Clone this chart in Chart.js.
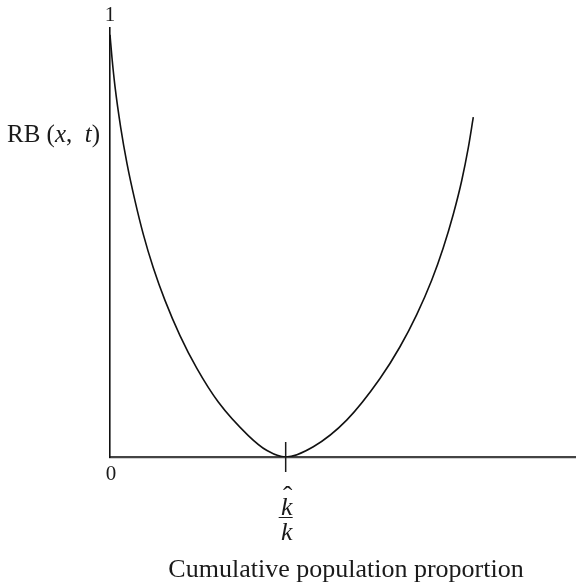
<!DOCTYPE html>
<html><head><meta charset="utf-8">
<script src="https://cdn.jsdelivr.net/npm/chart.js@4/dist/chart.umd.min.js"></script>
<style>html,body{margin:0;padding:0;background:#fff;}#wrap{width:576px;height:586px;position:relative;}</style>
</head><body><div id="wrap"><canvas id="c" width="576" height="586"></canvas></div>
<script>
// Cumulative population proportion (x) and RB(x, t) values
const xValues = [0, 0.0043, 0.0107, 0.0230, 0.0365, 0.0537, 0.0715, 0.0929, 0.1180, 0.1502, 0.1861, 0.2324, 0.2968, 0.3369, 0.3770,
                 0.4363, 0.5079, 0.5794, 0.6223, 0.6582, 0.6903, 0.7152, 0.7367, 0.7547, 0.7689, 0.7796];
const rbValues = [0.984, 0.930, 0.864, 0.768, 0.684, 0.597, 0.519, 0.441, 0.365, 0.283, 0.207, 0.128, 0.050, 0.015, 0,
                  0.024, 0.086, 0.183, 0.257, 0.332, 0.412, 0.488, 0.566, 0.644, 0.721, 0.792];
const kHatValue = 0.377;
const xTickLabels = ['0'];
const yTickLabels = ['0', '1'];
const yTitleParts = [['RB (', false], ['x', true], [',  ', false], ['t', true], [')', false]];
const xTitle = 'Cumulative population proportion';

const points = xValues.map((v, i) => ({x: v, y: rbValues[i]}));
const SERIF = '"Liberation Serif", "DejaVu Serif", serif';

const annot = {
  id: 'annot',
  afterDraw(chart) {
    const {ctx, chartArea, scales: {x, y}} = chart;
    ctx.save();
    ctx.fillStyle = '#1a1a1a';
    ctx.strokeStyle = '#1a1a1a';
    const x0 = x.getPixelForValue(0), y0 = y.getPixelForValue(0), y1 = y.getPixelForValue(1);
    ctx.textBaseline = 'alphabetic';
    ctx.textAlign = 'center';
    ctx.font = '21px ' + SERIF;
    ctx.fillText(yTickLabels[1], x0, y1 - 7);
    ctx.fillText(xTickLabels[0], x0 + 1, y0 + 23);
    // k-hat tick
    const xk = x.getPixelForValue(kHatValue);
    ctx.lineWidth = 1.5;
    ctx.beginPath(); ctx.moveTo(xk, y0 - 15); ctx.lineTo(xk, y0 + 15); ctx.stroke();
    // fraction k-hat / k
    ctx.font = 'italic 26px ' + SERIF;
    ctx.fillText('k', xk + 1, y0 + 58);
    ctx.fillText('k', xk + 1, y0 + 83);
    ctx.font = '28px ' + SERIF;
    ctx.fillText('\u02C6', xk + 2, y0 + 48);
    ctx.lineWidth = 1;
    ctx.beginPath(); ctx.moveTo(xk - 7, y0 + 60.5); ctx.lineTo(xk + 7, y0 + 60.5); ctx.stroke();
    // y title
    ctx.textAlign = 'left';
    let total = 0;
    const fonts = yTitleParts.map(p => (p[1] ? 'italic ' : '') + '25px ' + SERIF);
    yTitleParts.forEach((p, i) => { ctx.font = fonts[i]; total += ctx.measureText(p[0]).width; });
    let cx = x0 - 10 - total;
    yTitleParts.forEach((p, i) => { ctx.font = fonts[i]; ctx.fillText(p[0], cx, y1 + 114); cx += ctx.measureText(p[0]).width; });
    // x title
    ctx.textAlign = 'center';
    ctx.font = '26px ' + SERIF;
    ctx.fillText(xTitle, (chartArea.left + chartArea.right) / 2 + 3, y0 + 120);
    ctx.restore();
  }
};

new Chart(document.getElementById('c'), {
  type: 'scatter',
  data: { datasets: [{
    data: points,
    showLine: true,
    borderColor: '#111',
    borderWidth: 1.6,
    pointRadius: 0,
    cubicInterpolationMode: 'monotone',
    fill: false
  }]},
  options: {
    responsive: false,
    animation: false,
    devicePixelRatio: 1,
    layout: { padding: { left: 110, right: 0, top: 28, bottom: 129 } },
    plugins: { legend: { display: false }, tooltip: { enabled: false } },
    scales: {
      x: { type: 'linear', min: 0, max: 1,
           ticks: { display: false }, grid: { display: false, drawTicks: false },
           border: { display: true, color: '#444', width: 2.2 } },
      y: { type: 'linear', min: 0, max: 1,
           ticks: { display: false }, grid: { display: false, drawTicks: false },
           border: { display: true, color: '#111', width: 1.6 } }
    }
  },
  plugins: [annot]
});
</script>
</body></html>
